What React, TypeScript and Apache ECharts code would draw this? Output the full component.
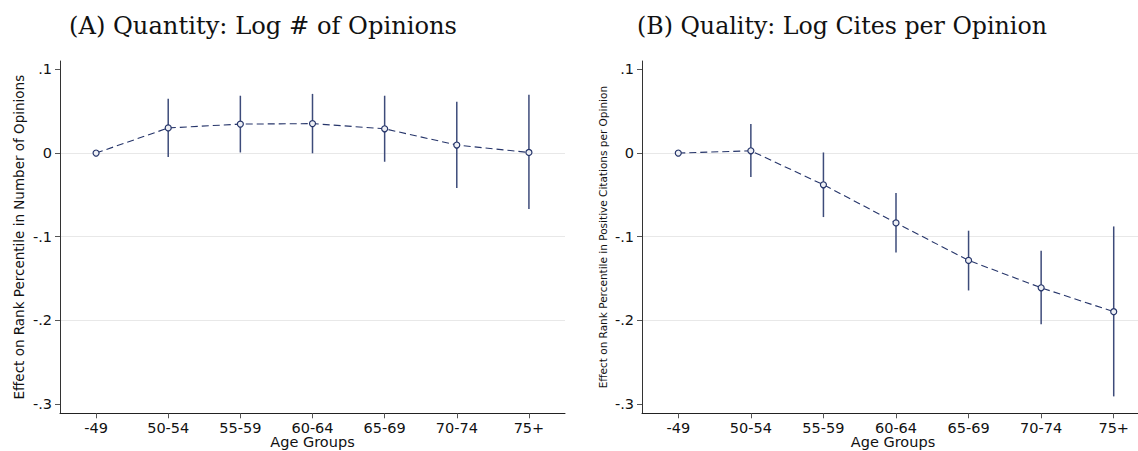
import React, { useEffect, useRef } from "react";
import * as echarts from "echarts";

const categories = ["-49", "50-54", "55-59", "60-64", "65-69", "70-74", "75+"];
const yTicks = [-0.3, -0.2, -0.1, 0, 0.1];

const quantityPoint = [0, 0.030, 0.0346, 0.0352, 0.029, 0.0096, 0.0007];
const quantityLow = [null, -0.0048, 0.0007, -0.0003, -0.0104, -0.0418, -0.0669];
const quantityHigh = [null, 0.0649, 0.0685, 0.0707, 0.0685, 0.0613, 0.0697];

const qualityPoint = [0, 0.0027, -0.0379, -0.0835, -0.1283, -0.161, -0.1896];
const qualityLow = [null, -0.0287, -0.0765, -0.1187, -0.1642, -0.2047, -0.2908];
const qualityHigh = [null, 0.0346, 0.0007, -0.0478, -0.0928, -0.1167, -0.0877];

const titleA = "(A) Quantity: Log # of Opinions";
const titleB = "(B) Quality: Log Cites per Opinion";
const yNameA = "Effect on Rank Percentile in Number of Opinions";
const yNameB = "Effect on Rank Percentile in Positive Citations per Opinion";
const xName = "Age Groups";

const LINE = "#26356a";
const BAR = "#3d4b7a";
const SANS = "DejaVu Sans";

function fmt(v: number) {
  const r = Math.round(v * 10) / 10;
  if (r === 0) return "0";
  const s = Math.abs(r).toFixed(1).replace(/^0/, "");
  return (r < 0 ? "-" : "") + s;
}

export default function App() {
  const ref = useRef<HTMLDivElement>(null);
  useEffect(() => {
    document.body.style.margin = "0";
    const chart = echarts.init(ref.current!, null, { renderer: "svg" });

    const mkGrid = (left: number, width: number) => ({
      left,
      width,
      top: 61,
      bottom: 37.7,
      containLabel: false,
      outerBoundsMode: "none",
    });

    const mkX = (gi: number) => ({
      type: "category",
      gridIndex: gi,
      data: categories,
      boundaryGap: true,
      axisLine: { show: true, onZero: false, lineStyle: { color: "#222", width: 1 } },
      axisTick: { show: true, alignWithLabel: true, length: 5, lineStyle: { color: "#555" } },
      axisLabel: { fontFamily: SANS, fontSize: 14.5, color: "#111", margin: 7 },
      splitLine: { show: false },
    });

    const mkY = (gi: number, name: string, nameSize: number) => ({
      type: "value",
      gridIndex: gi,
      min: -0.311,
      max: 0.11,
      name,
      nameLocation: "middle",
      nameRotate: 90,
      nameGap: 34,
      nameTextStyle: { fontFamily: SANS, fontSize: nameSize, color: "#111" },
      axisLine: { show: true, onZero: false, lineStyle: { color: "#333", width: 1 } },
      axisTick: { show: true, length: 5, customValues: yTicks, lineStyle: { color: "#555" } },
      axisLabel: {
        fontFamily: SANS,
        fontSize: 14.5,
        color: "#111",
        margin: 8,
        customValues: yTicks,
        formatter: (v: number) => fmt(v),
      },
      splitLine: {
        show: true,
        showMinLine: false,
        showMaxLine: false,
        lineStyle: { color: "#e8e8e8", width: 1 },
      },
    });

    const errData = (lo: (number | null)[], hi: (number | null)[]) =>
      lo
        .map((l, i) => (l === null || hi[i] === null ? null : [i, l, hi[i]]))
        .filter((d) => d !== null);

    const mkErr = (gi: number, lo: (number | null)[], hi: (number | null)[]) => ({
      type: "custom",
      xAxisIndex: gi,
      yAxisIndex: gi,
      z: 1,
      data: errData(lo, hi),
      encode: { x: 0, y: [1, 2] },
      renderItem: (params: any, api: any) => {
        const x = api.value(0);
        const a = api.coord([x, api.value(1)]);
        const b = api.coord([x, api.value(2)]);
        return {
          type: "line",
          shape: { x1: a[0], y1: a[1], x2: b[0], y2: b[1] },
          style: { stroke: BAR, lineWidth: 1.5 },
        };
      },
    });

    const mkLine = (gi: number, data: number[]) => ({
      type: "line",
      xAxisIndex: gi,
      yAxisIndex: gi,
      z: 3,
      data,
      symbol: "circle",
      symbolSize: 6,
      showAllSymbol: true,
      lineStyle: { color: LINE, width: 1.1, type: [7, 4] },
      itemStyle: { color: "#eef0f5", borderColor: LINE, borderWidth: 1.2 },
    });

    const txt = (x: number, y: number, text: string, font: string, size: number) => ({
      type: "text",
      x,
      y,
      style: {
        text,
        fontFamily: font,
        fontSize: size,
        fill: "#111",
        textAlign: "center",
        textVerticalAlign: "middle",
      },
    });

    chart.setOption({
      animation: false,
      backgroundColor: "#fff",
      graphic: [
        txt(263, 26, titleA, "DejaVu Serif", 24.2),
        txt(842, 26, titleB, "DejaVu Serif", 23.7),
        txt(312.5, 442, xName, SANS, 14.5),
        txt(893, 442, xName, SANS, 14.5),
      ],
      grid: [mkGrid(60, 505), mkGrid(642, 508)],
      xAxis: [mkX(0), mkX(1)],
      yAxis: [mkY(0, yNameA, 13.5), mkY(1, yNameB, 10.5)],
      series: [
        mkErr(0, quantityLow, quantityHigh),
        mkLine(0, quantityPoint),
        mkErr(1, qualityLow, qualityHigh),
        mkLine(1, qualityPoint),
      ],
    });
    return () => chart.dispose();
  }, []);
  return <div ref={ref} style={{ width: 1138, height: 451 }} />;
}
